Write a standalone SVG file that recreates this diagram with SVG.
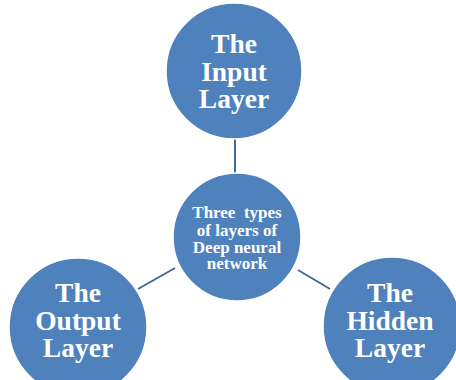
<svg xmlns="http://www.w3.org/2000/svg" width="456" height="380" viewBox="0 0 456 380">
<style>
.n{fill:#4f81bd;stroke:#ffffff;stroke-width:1.5}
text{font-family:'Liberation Serif','Times New Roman','DejaVu Serif',serif;font-weight:700;fill:#ffffff;text-anchor:middle}
.big{font-size:27.5px}
.small{font-size:17px}
.c{stroke:#41699a;stroke-width:2;fill:none}
</style>
<rect width="456" height="380" fill="#ffffff"/>
<g id="connectors">
<line class="c" x1="235" y1="137" x2="235" y2="175"/>
<line class="c" x1="138" y1="289" x2="175" y2="268"/>
<line class="c" x1="298" y1="270" x2="330" y2="289"/>
</g>
<g id="input">
<circle class="n" cx="234" cy="71" r="68"/>
<text class="big" x="234" y="53">The</text>
<text class="big" x="234" y="81">Input</text>
<text class="big" x="234" y="108">Layer</text>
</g>
<g id="center">
<circle class="n" cx="237" cy="237" r="64"/>
<text class="small" x="237" y="218" xml:space="preserve">Three  types</text>
<text class="small" x="237" y="236">of layers of</text>
<text class="small" x="237" y="253">Deep neural</text>
<text class="small" x="237" y="269">network</text>
</g>
<g id="output">
<circle class="n" cx="78" cy="327" r="69"/>
<text class="big" x="78" y="302">The</text>
<text class="big" x="78" y="330">Output</text>
<text class="big" x="78" y="357">Layer</text>
</g>
<g id="hidden">
<circle class="n" cx="392" cy="326" r="69"/>
<text class="big" x="390" y="302">The</text>
<text class="big" x="390" y="330">Hidden</text>
<text class="big" x="390" y="357">Layer</text>
</g>
</svg>
